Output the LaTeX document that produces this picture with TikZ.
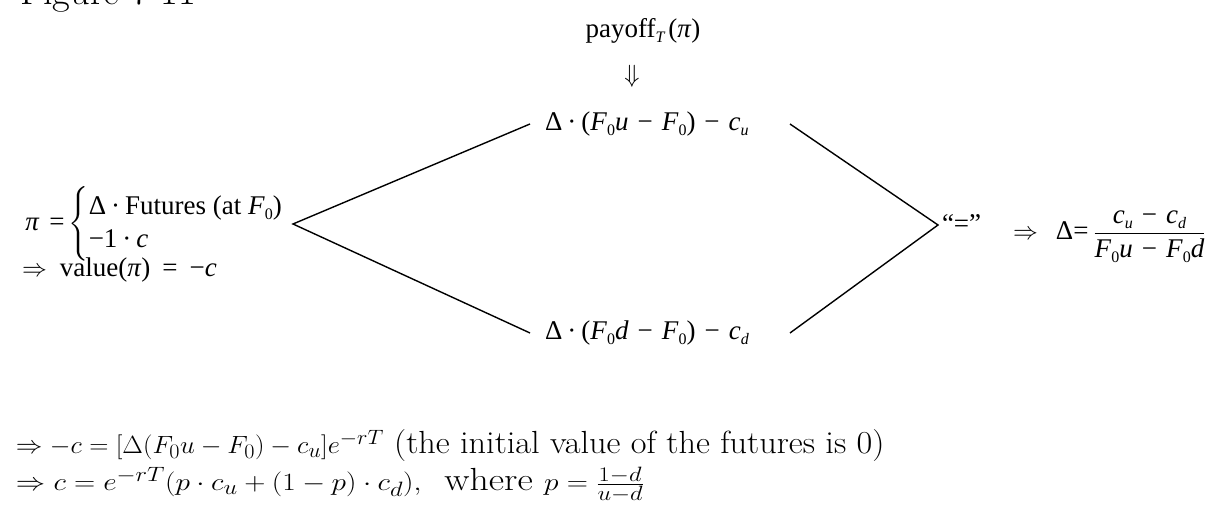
\documentclass[tikz,border=0pt]{standalone}
\usepackage{fontspec}
\usepackage{amsmath}
\newfontfamily\tms{Liberation Serif}
\newcommand\tvar[1]{\textit{#1}}
\newcommand\tsub[1]{\raisebox{-5pt}{\fontsize{16}{16}\selectfont #1}}
\newcommand\tmin{\kern9pt−\kern9pt}
\newcommand\tdot{\kern5pt·\kern5pt}
\begin{document}
\begin{tikzpicture}[x=1pt,y=1pt,
  every node/.style={inner sep=0pt, outer sep=0pt},
  tnode/.style={font=\tms\fontsize{27}{30}\selectfont},
  branchnode/.style={tnode, anchor=west, text width=230pt, inner xsep=15pt, align=left},
  bigtext/.style={anchor=base west, font=\fontsize{32}{38}\selectfont},
  branch/.style={line width=1.4pt}]
\useasboundingbox (0,0) rectangle (1221,510);
% title (cut off at top)
\node[anchor=base west, font=\fontsize{38.5}{42}\selectfont] (title) at (20,505) {Figure 7-11};
% payoff label and arrow
\node[tnode, anchor=base] (payoff) at (643,472) {payoff\tsub{\tvar{T}}\kern3pt(\tvar{π})};
\node[font=\fontsize{32}{34}\selectfont] (darr) at (632,434) {$\Downarrow$};
% branches
\node[branchnode] (up) at (530,386) {Δ\tdot(\tvar{F}\tsub{0}\tvar{u}\tmin\tvar{F}\tsub{0})\tmin\tvar{c}\tsub{\tvar{u}}};
\node[branchnode] (down) at (530,177) {Δ\tdot(\tvar{F}\tsub{0}\tvar{d}\tmin\tvar{F}\tsub{0})\tmin\tvar{c}\tsub{\tvar{d}}};
% portfolio
\node[tnode, font=\tms\fontsize{27}{33}\selectfont, anchor=east] (pi) at (283,286) {\tvar{π}\hspace{10pt}=\hspace{4pt}$\left\{\begin{tabular}{@{}l@{}}Δ\tdot Futures (at \tvar{F}\tsub{0})\\ −1\tdot\tvar{c}\end{tabular}\right.$};
\coordinate (lapex) at ([xshift=10pt]pi.east);
\node[tnode, anchor=base west] (value) at (22,233) {$\Rightarrow$\hspace{13pt}value(\tvar{π})\hspace{12pt}=\hspace{12pt}−\tvar{c}};
% right side
\coordinate (rapex) at (938,285);
\node[tnode, anchor=base west] (eq) at (942,277) {“=”};
\node[tnode, anchor=base west] (delta) at (1013,270) {{\fontsize{31}{31}\selectfont$\Rightarrow$}\hspace{18pt}Δ=\kern5pt$\dfrac{\hbox{\tvar{c}\tsub{\tvar{u}}\tmin\tvar{c}\tsub{\tvar{d}}}}{\hbox{\tvar{F}\tsub{0}\tvar{u}\tmin\tvar{F}\tsub{0}\tvar{d}}}$};
% connectors
\draw[branch] (up.west) -- (lapex) -- (down.west);
\draw[branch] (up.east) -- (rapex) -- (down.east);
% bottom lines
\node[bigtext, xscale=1.07] (line1) at (16,56) {$\Rightarrow -c=[\Delta(F_0u-F_0)-c_u]e^{-rT}$ (the initial value of the futures is 0)};
\node[bigtext, xscale=1.18] (line2) at (16,19) {$\Rightarrow c=e^{-rT}(p\cdot c_u+(1-p)\cdot c_d),$\ \ where $p=\frac{1-d}{u-d}$};
\end{tikzpicture}
\end{document}
